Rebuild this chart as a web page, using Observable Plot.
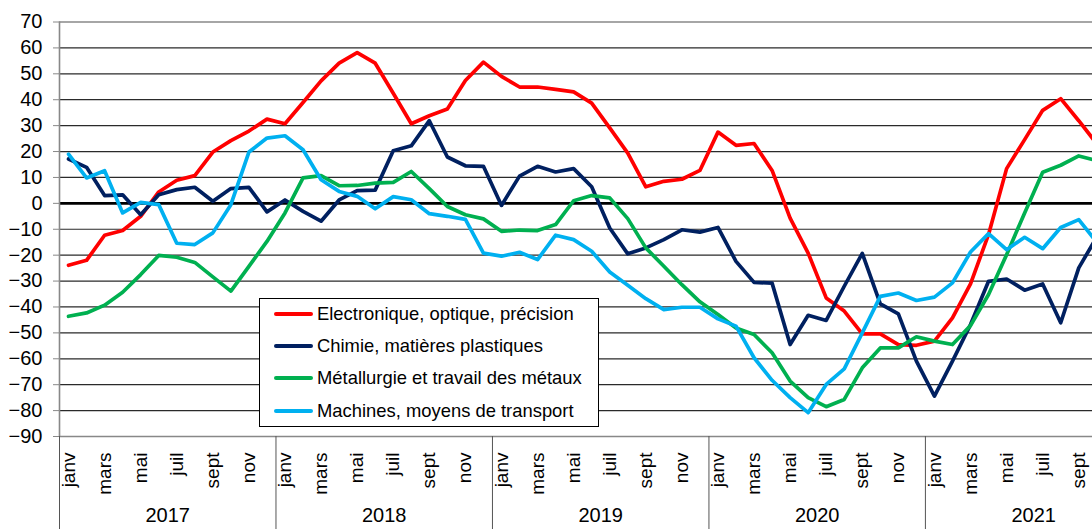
<!DOCTYPE html>
<html><head><meta charset="utf-8">
<script src="https://cdn.jsdelivr.net/npm/d3@7"></script>
<script src="https://cdn.jsdelivr.net/npm/@observablehq/plot@0.6"></script>
<style>
html,body{margin:0;padding:0;background:#fff;overflow:hidden;}
#wrap{position:relative;width:1092px;height:529px;font-family:"Liberation Sans",Arial,sans-serif;}
#legend{position:absolute;left:259px;top:298px;width:340px;height:129px;border:1px solid #000;background:#fff;box-sizing:border-box;}
.item{position:absolute;left:14px;height:32px;display:flex;align-items:center;font-size:18.4px;color:#000;white-space:nowrap;}
.sw{display:inline-block;width:39px;height:4px;margin-right:4px;border-radius:2px;}
</style></head>
<body><div id="wrap"><div id="chart"></div><div id="legend"></div></div>
<script>
const monthNames = ["janv","févr","mars","avr","mai","juin","juil","août","sept","oct","nov","déc"];
const years = [2017, 2018, 2019, 2020, 2021];
const seriesNames = ["Electronique, optique, précision","Chimie, matières plastiques","Métallurgie et travail des métaux","Machines, moyens de transport"];
const seriesColors = ["#FF0000","#002060","#00B050","#00B0F0"];
const yTicks = [-90,-80,-70,-60,-50,-40,-30,-20,-10,0,10,20,30,40,50,60,70];

const electronique = [-23.9,-22,-12.3,-10.5,-5,4.4,8.9,10.7,19.8,24.2,27.9,32.5,30.7,38.9,47.3,54.1,58.2,54.1,42.5,30.7,33.8,36.4,47.4,54.5,49,44.9,44.9,44,43,38.7,29.1,19.4,6.4,8.5,9.3,12.7,27.5,22.4,23.1,12.7,-5.7,-19.2,-36.5,-41.6,-50.4,-50.4,-54.5,-54.8,-53.2,-44.2,-31.1,-12,13.4,24.6,35.9,40.4,31.9,23];
const chimie = [17.1,13.9,3,3.3,-4.4,3.3,5.3,6.2,0.8,5.7,6.2,-3.3,1.3,-3.1,-6.9,1.3,4.9,5.1,20.3,22.2,31.9,17.9,14.5,14.3,-0.8,10.5,14.3,12.1,13.4,6.4,-9.5,-19.5,-17.2,-14,-10.2,-11.1,-9.3,-22.4,-30.5,-30.8,-54.5,-43.2,-45.2,-32,-19.3,-38.8,-42.7,-60.9,-74.4,-60.9,-46.8,-30.1,-29.2,-33.5,-31.1,-46.1,-24.9,-13];
const metallurgie = [-43.6,-42.3,-39.3,-34.3,-27.5,-20.1,-20.8,-22.8,-28.4,-33.9,-24.3,-14.7,-3.7,9.8,10.7,6.8,6.9,7.8,8.1,12.3,5.7,-1.2,-4.4,-6,-10.8,-10.3,-10.5,-8.2,1,3,2.1,-5.9,-17.2,-24.3,-31.4,-38,-42.9,-48.1,-50.6,-57.7,-68.6,-75,-78.5,-75.7,-63.5,-55.8,-55.8,-51.5,-53.2,-54.5,-47.2,-35.2,-19.8,-3.7,12,14.7,18.3,16.5];
const machines = [19,9.8,12.6,-3.7,0.4,-0.5,-15.4,-15.9,-11.4,-0.5,19.8,25.2,26.1,20.7,9.1,4.6,2.7,-2.1,2.6,1.4,-4,-5,-6.2,-19.2,-20.4,-18.9,-21.7,-12.3,-14,-18.5,-26.5,-31.6,-36.8,-41,-40.1,-40.1,-44.6,-47.4,-59.6,-68.3,-75,-80.8,-69.9,-63.9,-50,-35.9,-34.6,-37.5,-36.2,-30.7,-18.8,-11.7,-17.9,-13.1,-17.5,-9.3,-6.3,-15];

const allSeries = [electronique, chimie, metallurgie, machines];
const data = [];
allSeries.forEach((vals, s) => vals.forEach((v, i) => data.push({name: seriesNames[s], i, v})));

const nMonths = years.length * 12;
const monthTicks = d3.range(0, electronique.length, 2);
const sepTicks = d3.range(0, years.length + 1).map(k => 12 * k - 0.5);
const yearLabels = years.map((y, k) => ({year: String(y), mid: 12 * k + 5.5}));

const chart = Plot.plot({
  width: 1092, height: 529,
  marginLeft: 59, marginRight: 0, marginTop: 21.5, marginBottom: 93,
  x: {type: "linear", domain: [-0.5, nMonths - 0.5], range: [59, 59 + 18.04 * nMonths]},
  y: {domain: [-90, 70], range: [436, 21.5]},
  color: {domain: seriesNames, range: seriesColors},
  style: {fontFamily: "'Liberation Sans', Arial, sans-serif", fontSize: "20px", color: "#000", background: "#fff", overflow: "hidden"},
  marks: [
    Plot.gridY(yTicks.filter(d => d !== 0 && d !== 70 && d !== -90), {stroke: "#2a2a2a", strokeOpacity: 1, strokeWidth: 1.2}),
    Plot.ruleY([70, -90], {stroke: "#888", strokeWidth: 1.6}),
    Plot.ruleY([0], {stroke: "#000", strokeWidth: 2.6}),
    Plot.lineY(data, {x: "i", y: "v", z: "name", stroke: "name", strokeWidth: 3.7, clip: true}),
    Plot.axisY(yTicks, {tickSize: 6, tickPadding: 11, fontSize: 20, stroke: "#888", label: null}),
    Plot.axisX(monthTicks, {tickSize: 0, tickRotate: -90, tickPadding: 16, fontSize: 19, tickFormat: i => monthNames[i % 12], label: null}),
    Plot.axisX(sepTicks, {tickSize: 93, tickFormat: () => "", stroke: "#555", label: null}),
    Plot.ruleX([-0.5], {stroke: "#888", strokeWidth: 1.6}),
    Plot.text(yearLabels, {x: "mid", text: "year", frameAnchor: "bottom", dy: 85, fontSize: 20})
  ]
});
document.getElementById("chart").appendChild(chart);

const legend = document.getElementById("legend");
seriesNames.forEach((n, k) => {
  const it = document.createElement("div");
  it.className = "item";
  it.style.top = (-1 + 32.2 * k) + "px";
  it.innerHTML = `<span class="sw" style="background:${seriesColors[k]}"></span><span>${n}</span>`;
  legend.appendChild(it);
});
</script>
</body></html>
